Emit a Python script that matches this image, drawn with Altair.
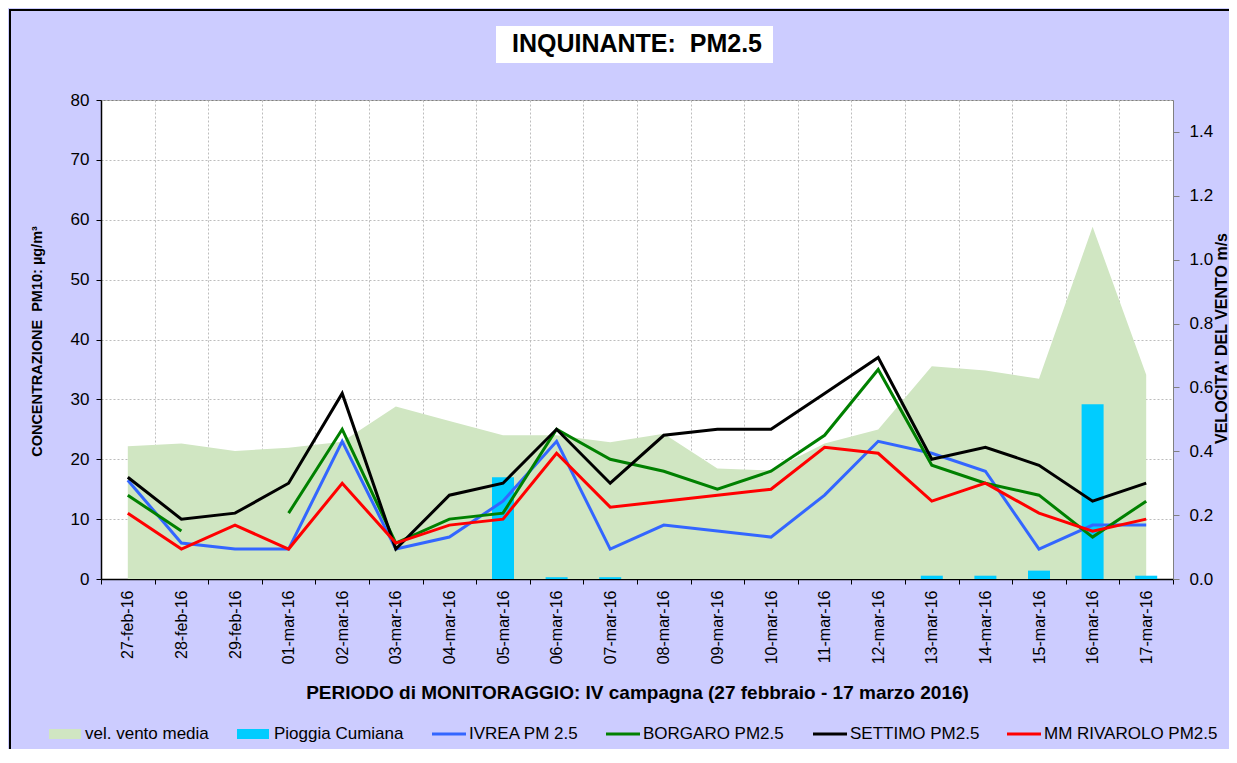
import altair as alt
import pandas as pd

# ---------------- data ----------------
dates = ["27-feb-16", "28-feb-16", "29-feb-16", "01-mar-16", "02-mar-16", "03-mar-16",
         "04-mar-16", "05-mar-16", "06-mar-16", "07-mar-16", "08-mar-16", "09-mar-16",
         "10-mar-16", "11-mar-16", "12-mar-16", "13-mar-16", "14-mar-16", "15-mar-16",
         "16-mar-16", "17-mar-16"]

ivrea = [16.5, 6, 5, 5, 23, 5, 7, 13, 23, 5, 9, 8, 7, 14, 23, 21, 18, 5, 9, 9]
borgaro = [14, 8, None, 11, 25, 6, 10, 11, 25, 20, 18, 15, 18, 24, 35, 19, 16, 14, 7, 13]
settimo = [17, 10, 11, 16, 31, 5, 14, 16, 25, 16, 24, 25, 25, 31, 37, 20, 22, 19, 13, 16]
rivarolo = [11, 5, 9, 5, 16, 6, 9, 10, 21, 12, 13, 14, 15, 22, 21, 13, 16, 11, 8, 10]
wind = [0.416, 0.424, 0.401, 0.411, 0.43, 0.54, 0.495, 0.45, 0.45, 0.428, 0.455, 0.346,
        0.34, 0.424, 0.468, 0.666, 0.653, 0.627, 1.103, 0.64]
rain = [0, 0, 0, 0, 0, 0, 0, 17, 0.3, 0.3, 0, 0, 0, 0, 0, 0.55, 0.55, 1.4, 29.2, 0.55]

series_names = ["IVREA PM 2.5", "BORGARO PM2.5", "SETTIMO PM2.5", "MM RIVAROLO PM2.5"]
series_values = [ivrea, borgaro, settimo, rivarolo]
series_colors = ["#3366FF", "#008000", "#000000", "#FF0000"]

AREA_COLOR = "#d0e6c2"
BAR_COLOR = "#00CCFF"
FONT = "Liberation Sans"
GRID = "#bdbdbd"
NB = "\u00a0"


def series_df(vals):
    rows, seg = [], 0
    for d, v in zip(dates, vals):
        if v is None:
            seg += 1
            continue
        rows.append({"date": d, "value": v, "seg": seg})
    return pd.DataFrame(rows)


X = alt.X(
    "date:N", sort=dates,
    scale=alt.Scale(domain=dates, type="band", paddingInner=0, paddingOuter=0),
    axis=alt.Axis(
        title="PERIODO di MONITORAGGIO: IV campagna (27 febbraio - 17 marzo 2016)",
        titleFont=FONT, titleFontSize=19, titleFontWeight="bold", titleColor="black",
        titleY=113, titleBaseline="middle",
        labelAngle=270, labelFont=FONT, labelFontSize=16, labelColor="black", labelPadding=6,
        tickBand="extent", ticks=True, tickSize=5, tickColor="black",
        domainColor="black", domainWidth=1.5,
        grid=True, gridDash=[2, 2], gridColor=GRID,
    ),
)

Y_LEFT = alt.Y(
    "value:Q",
    scale=alt.Scale(domain=[0, 80], nice=False),
    axis=alt.Axis(
        orient="left", values=list(range(0, 81, 10)),
        title="CONCENTRAZIONE" + NB + NB + "PM10: µg/m³",
        titleFont=FONT, titleFontSize=14.5, titleFontWeight="bold", titleColor="black",
        titleAngle=270, titleX=-64, titleY=241, titleAlign="center", titleBaseline="middle",
        labelFont=FONT, labelFontSize=17, labelColor="black", labelPadding=7,
        tickSize=5, tickColor="black", domainColor="black", domainWidth=1.5,
        grid=True, gridDash=[2, 2], gridColor=GRID,
    ),
)

Y_RIGHT = alt.Y(
    "wind:Q",
    scale=alt.Scale(domain=[0, 1.5], nice=False),
    axis=alt.Axis(
        orient="right", values=[0.0, 0.2, 0.4, 0.6, 0.8, 1.0, 1.2, 1.4], format=".1f",
        title="VELOCITA' DEL VENTO m/s",
        titleFont=FONT, titleFontSize=16, titleFontWeight="bold", titleColor="black",
        titleAngle=270, titleX=48, titleY=238, titleAlign="center", titleBaseline="middle",
        labelFont=FONT, labelFontSize=17, labelColor="black", labelPadding=10,
        tickSize=6, tickColor="#808080", domainColor="#808080",
        grid=False,
    ),
)

# ---------------- data layers ----------------
area = alt.Chart(pd.DataFrame({"date": dates, "wind": wind})).mark_area(
    color=AREA_COLOR, opacity=1
).encode(x=X, y=Y_RIGHT)

bars = alt.Chart(pd.DataFrame({"date": dates, "value": rain})).mark_bar(
    size=22, color=BAR_COLOR
).encode(x=X, y=Y_LEFT)

line_layers = []
for name, vals, col in zip(series_names, series_values, series_colors):
    line_layers.append(
        alt.Chart(series_df(vals)).mark_line(color=col, strokeWidth=3).encode(
            x=X, y=Y_LEFT, detail="seg:N"
        )
    )

left = alt.layer(bars, *line_layers)

# ---------------- decorations (layout only) ----------------
one = pd.DataFrame({"k": [0]})

frame = alt.Chart(one).mark_rect(fillOpacity=0, stroke="black", strokeWidth=2).encode(
    x=alt.value(-91), x2=alt.value(1400), y=alt.value(-90), y2=alt.value(900)
)

title_box = alt.Chart(one).mark_rect(fill="white").encode(
    x=alt.value(395), x2=alt.value(672), y=alt.value(-74), y2=alt.value(-37)
)
title_text = alt.Chart(one).mark_text(
    text="INQUINANTE:" + NB + NB + "PM2.5", font=FONT, fontSize=25, fontWeight="bold",
    align="center", baseline="middle", color="black"
).encode(x=alt.value(536), y=alt.value(-56))

LEG_Y = 634
leg_layers = []
# area swatch
leg_layers.append(alt.Chart(one).mark_rect(fill=AREA_COLOR).encode(
    x=alt.value(-52), x2=alt.value(-20), y=alt.value(LEG_Y - 5), y2=alt.value(LEG_Y + 5)))
leg_layers.append(alt.Chart(one).mark_text(
    text="vel. vento media", font=FONT, fontSize=17, align="left", baseline="middle", color="black"
).encode(x=alt.value(-16), y=alt.value(LEG_Y)))
# bar swatch
leg_layers.append(alt.Chart(one).mark_rect(fill=BAR_COLOR).encode(
    x=alt.value(136), x2=alt.value(168), y=alt.value(LEG_Y - 5), y2=alt.value(LEG_Y + 5)))
leg_layers.append(alt.Chart(one).mark_text(
    text="Pioggia Cumiana", font=FONT, fontSize=17, align="left", baseline="middle", color="black"
).encode(x=alt.value(173), y=alt.value(LEG_Y)))
# line swatches
line_leg_x = [331, 505, 712, 906]
for name, col, lx in zip(series_names, series_colors, line_leg_x):
    leg_layers.append(alt.Chart(one).mark_rule(color=col, strokeWidth=3).encode(
        x=alt.value(lx), x2=alt.value(lx + 34), y=alt.value(LEG_Y)))
    leg_layers.append(alt.Chart(one).mark_text(
        text=name, font=FONT, fontSize=17, align="left", baseline="middle", color="black"
    ).encode(x=alt.value(lx + 37), y=alt.value(LEG_Y)))

chart = alt.layer(
    frame, area, left, title_box, title_text, *leg_layers
).resolve_scale(y="independent").properties(
    width=1072, height=479,
    autosize=alt.AutoSizeParams(type="none"),
    padding={"left": 93, "top": 92, "right": 56, "bottom": 170},
).configure(background="#CCCCFF").configure_view(fill="white", stroke="#808080", strokeWidth=1)

chart.save("out.html", embed_options={"renderer": "svg", "actions": False})
